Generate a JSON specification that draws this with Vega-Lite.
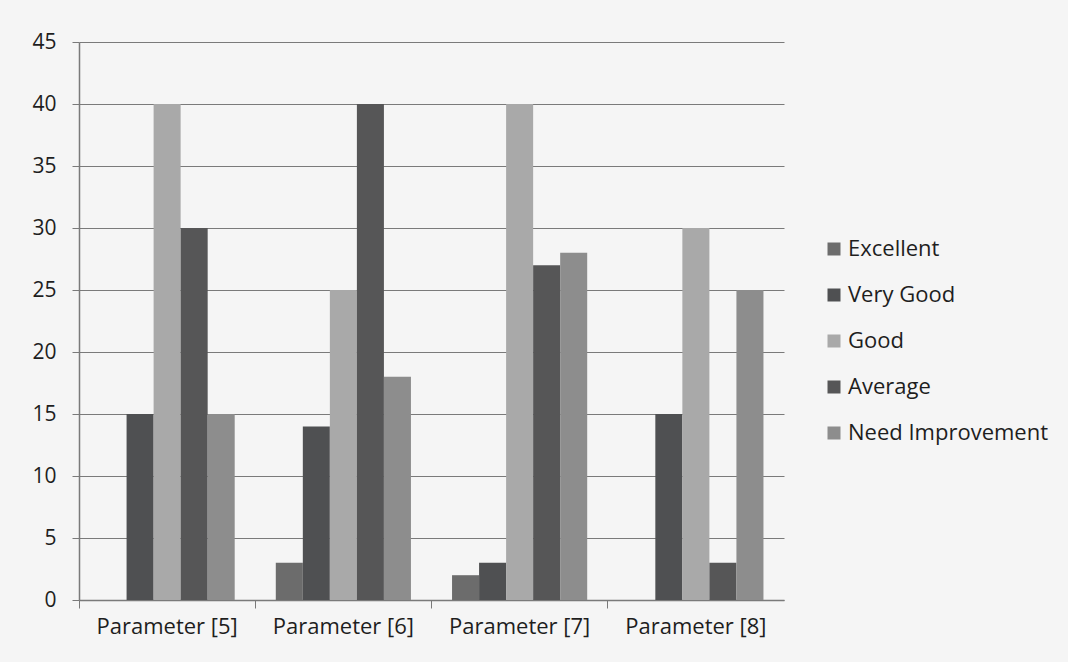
{
  "$schema": "https://vega.github.io/schema/vega-lite/v6.json",
  "width": 705,
  "height": 558,
  "autosize": {"type": "none"},
  "padding": {"left": 79, "top": 42, "right": 284, "bottom": 62},
  "background": "#f5f5f5",
  "data": {
    "values": [
      {"param": "Parameter [5]", "rating": "Excellent", "value": 0},
      {"param": "Parameter [5]", "rating": "Very Good", "value": 15},
      {"param": "Parameter [5]", "rating": "Good", "value": 40},
      {"param": "Parameter [5]", "rating": "Average", "value": 30},
      {"param": "Parameter [5]", "rating": "Need Improvement", "value": 15},
      {"param": "Parameter [6]", "rating": "Excellent", "value": 3},
      {"param": "Parameter [6]", "rating": "Very Good", "value": 14},
      {"param": "Parameter [6]", "rating": "Good", "value": 25},
      {"param": "Parameter [6]", "rating": "Average", "value": 40},
      {"param": "Parameter [6]", "rating": "Need Improvement", "value": 18},
      {"param": "Parameter [7]", "rating": "Excellent", "value": 2},
      {"param": "Parameter [7]", "rating": "Very Good", "value": 3},
      {"param": "Parameter [7]", "rating": "Good", "value": 40},
      {"param": "Parameter [7]", "rating": "Average", "value": 27},
      {"param": "Parameter [7]", "rating": "Need Improvement", "value": 28},
      {"param": "Parameter [8]", "rating": "Excellent", "value": 0},
      {"param": "Parameter [8]", "rating": "Very Good", "value": 15},
      {"param": "Parameter [8]", "rating": "Good", "value": 30},
      {"param": "Parameter [8]", "rating": "Average", "value": 3},
      {"param": "Parameter [8]", "rating": "Need Improvement", "value": 25}
    ]
  },
  "mark": {"type": "bar"},
  "encoding": {
    "x": {
      "field": "param",
      "type": "nominal",
      "sort": null,
      "scale": {"paddingInner": 0, "paddingOuter": 0},
      "axis": {
        "title": null,
        "labelAngle": 0,
        "bandPosition": 0,
        "tickSize": 8,
        "labelPadding": 8,
        "domainColor": "#7a7a7a",
        "tickColor": "#7a7a7a",
        "labelFontSize": 22,
        "labelFont": "Open Sans",
        "labelColor": "#1e1e1e",
        "labelLimit": 300
      }
    },
    "xOffset": {
      "field": "rating",
      "type": "nominal",
      "sort": ["Excellent", "Very Good", "Good", "Average", "Need Improvement"],
      "scale": {"paddingInner": 0, "paddingOuter": 0.76}
    },
    "y": {
      "field": "value",
      "type": "quantitative",
      "scale": {"domain": [0, 45], "nice": false},
      "axis": {
        "title": null,
        "values": [0, 5, 10, 15, 20, 25, 30, 35, 40, 45],
        "tickSize": 7,
        "labelPadding": 16,
        "grid": true,
        "gridColor": "#7a7a7a",
        "gridOpacity": 1,
        "domainColor": "#7a7a7a",
        "tickColor": "#7a7a7a",
        "labelFontSize": 21,
        "labelFont": "Open Sans",
        "labelColor": "#1e1e1e"
      }
    },
    "color": {
      "field": "rating",
      "type": "nominal",
      "sort": ["Excellent", "Very Good", "Good", "Average", "Need Improvement"],
      "scale": {
        "domain": ["Excellent", "Very Good", "Good", "Average", "Need Improvement"],
        "range": ["#6c6c6c", "#4f5052", "#a9a9a9", "#565657", "#8d8d8d"]
      },
      "legend": {
        "title": null,
        "orient": "none",
        "legendX": 744,
        "legendY": 196,
        "symbolType": "square",
        "symbolSize": 169,
        "symbolStrokeWidth": 0,
        "labelFontSize": 22,
        "labelFont": "Open Sans",
        "labelColor": "#1e1e1e",
        "labelLimit": 300,
        "rowPadding": 24,
        "labelOffset": 3
      }
    }
  },
  "config": {
    "view": {"stroke": null},
    "axis": {"domainWidth": 1.5}
  }
}
